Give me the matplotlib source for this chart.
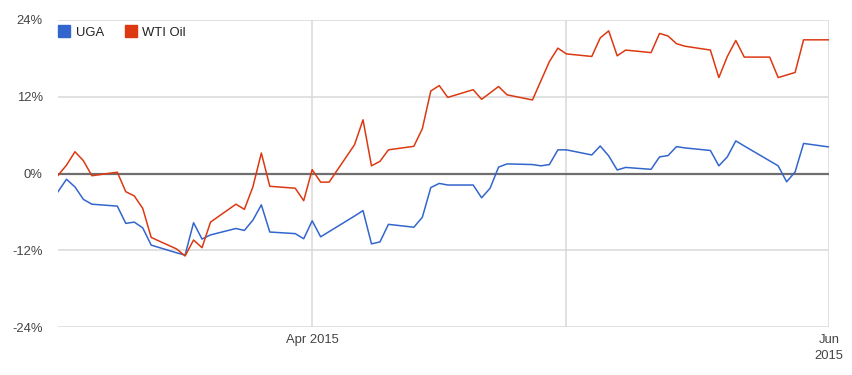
import numpy as np
import matplotlib
matplotlib.use("Agg")
import matplotlib.pyplot as plt
import matplotlib.dates as mdates
from matplotlib.lines import Line2D

# trading days, Mar 2 2015 .. Jun 1 2015
dates = [
    "2015-03-02", "2015-03-03", "2015-03-04", "2015-03-05", "2015-03-06",
    "2015-03-09", "2015-03-10", "2015-03-11", "2015-03-12", "2015-03-13",
    "2015-03-16", "2015-03-17", "2015-03-18", "2015-03-19", "2015-03-20",
    "2015-03-23", "2015-03-24", "2015-03-25", "2015-03-26", "2015-03-27",
    "2015-03-30", "2015-03-31", "2015-04-01", "2015-04-02", "2015-04-03",
    "2015-04-06", "2015-04-07", "2015-04-08", "2015-04-09", "2015-04-10",
    "2015-04-13", "2015-04-14", "2015-04-15", "2015-04-16", "2015-04-17",
    "2015-04-20", "2015-04-21", "2015-04-22", "2015-04-23", "2015-04-24",
    "2015-04-27", "2015-04-28", "2015-04-29", "2015-04-30", "2015-05-01",
    "2015-05-04", "2015-05-05", "2015-05-06", "2015-05-07", "2015-05-08",
    "2015-05-11", "2015-05-12", "2015-05-13", "2015-05-14", "2015-05-15",
    "2015-05-18", "2015-05-19", "2015-05-20", "2015-05-21", "2015-05-22",
    "2015-05-25", "2015-05-26", "2015-05-27", "2015-05-28", "2015-05-29",
    "2015-06-01",
]

# % change, None = no quote that day
uga = [
    -2.85, -0.9, -2.1, -4.05, -4.8,
    -5.1, -7.8, -7.6, -8.5, -11.2,
    -12.4, -12.75, -7.7, -10.25, -9.6,
    -8.6, -8.9, -7.3, -4.9, -9.15,
    -9.4, -10.2, -7.4, -9.9, None,
    -6.65, -5.8, -11.0, -10.7, -7.95,
    -8.4, -6.85, -2.2, -1.55, -1.8,
    -1.8, -3.8, -2.3, 1.0, 1.5,
    1.4, 1.2, 1.4, 3.7, 3.7,
    2.9, 4.3, 2.75, 0.55, 0.95,
    0.65, 2.6, 2.8, 4.2, 4.0,
    3.6, 1.2, 2.6, 5.1, 4.3,
    None, 1.2, -1.3, 0.25, 4.7,
    4.15,
]

wti = [
    -0.3, 1.3, 3.4, 2.0, -0.35,
    0.2, -2.85, -3.5, -5.45, -10.0,
    -11.8, -12.9, -10.4, -11.6, -7.6,
    -4.8, -5.6, -2.1, 3.2, -2.0,
    -2.3, -4.25, 0.6, -1.35, -1.35,
    4.5, 8.4, 1.2, 1.9, 3.7,
    4.25, 7.0, 12.9, 13.75, 11.9,
    13.1, 11.6, 12.6, 13.6, 12.3,
    11.5, 14.5, 17.5, 19.6, 18.7,
    18.3, 21.2, 22.3, 18.4, 19.3,
    18.9, 21.9, 21.5, 20.3, 19.9,
    19.3, 15.0, 18.3, 20.8, 18.2,
    18.2, 15.0, 15.4, 15.8, 20.9,
    20.9,
]

series_names = ["UGA", "WTI Oil"]
series_colors = ["#3366cc", "#dc3912"]
y_ticks = [-24, -12, 0, 12, 24]
x_ticks = ["2015-04-01", "2015-05-01", "2015-06-01"]
x_tick_labels = ["Apr 2015", "", "Jun\n2015"]

plt.rcParams["font.family"] = ["Liberation Sans", "DejaVu Sans"]

fig = plt.figure(figsize=(8.53, 3.75), dpi=100)
ax = fig.add_axes([58 / 853, 1 - 327 / 375, (829 - 58) / 853, (327 - 20) / 375])

x = np.array(dates, dtype="datetime64[D]")
for vals, color in zip([uga, wti], series_colors):
    v = np.array([np.nan if a is None else a for a in vals])
    ok = ~np.isnan(v)
    ax.plot(x[ok], v[ok], color=color, lw=1.1, zorder=3)

ax.set_xlim(np.datetime64("2015-03-02"), np.datetime64("2015-06-01"))
ax.set_ylim(-24, 24)

ax.set_yticks(y_ticks)
ax.set_yticklabels([f"{t}%" for t in y_ticks])
ax.set_xticks(np.array(x_ticks, dtype="datetime64[D]"))
ax.set_xticklabels(x_tick_labels, linespacing=1.4)

ax.grid(True, color="#d9d9d9", lw=1.1, zorder=0)
ax.axhline(0, color="#6e6e6e", lw=1.6, zorder=2)
for s in ax.spines.values():
    s.set_visible(False)
ax.tick_params(axis="both", length=0, labelsize=9.4, labelcolor="#444444")
ax.tick_params(axis="y", pad=11)
ax.tick_params(axis="x", pad=5)

handles = [Line2D([], [], marker="s", ls="", color=c, markersize=8.6) for c in series_colors]
ax.legend(handles, series_names, loc="upper left", bbox_to_anchor=(0, 0.978),
          ncol=2, frameon=False, borderpad=0, borderaxespad=0,
          handlelength=0.9, handletextpad=0.45, columnspacing=1.6,
          fontsize=9.4, labelcolor="#222222")

fig.savefig("out.png", dpi=100)
